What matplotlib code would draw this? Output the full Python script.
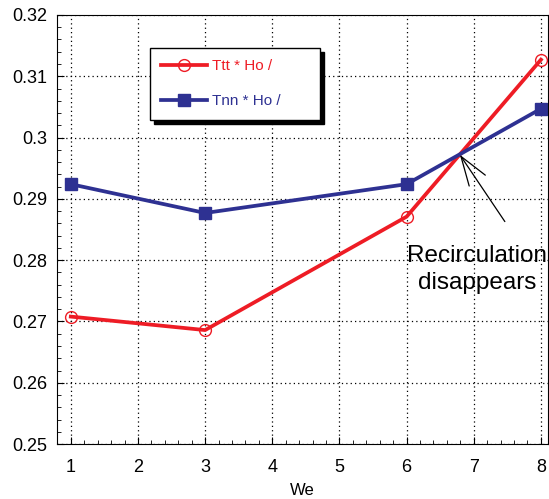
#!/usr/bin/env python3

import matplotlib
matplotlib.use('Agg')
import numpy as np
from matplotlib import pyplot as plt
from matplotlib.ticker import AutoMinorLocator

plt.rcParams['font.family'] = ['Liberation Sans', 'DejaVu Sans']

# values
we = [1, 3, 6, 8]
ttt_ho = [0.2708, 0.2686, 0.2871, 0.3127]
tnn_ho = [0.2924, 0.2877, 0.2924, 0.3047]
x_ticks = [1, 2, 3, 4, 5, 6, 7, 8]
y_ticks = [0.25, 0.26, 0.27, 0.28, 0.29, 0.30, 0.31, 0.32]
y_labels = ['0.25', '0.26', '0.27', '0.28', '0.29', '0.3', '0.31', '0.32']

red = '#ee1c25'
blue = '#2e3192'

fig = plt.figure(figsize=(5.49, 4.99), dpi=100)
ax = fig.add_axes([0.104, 0.110, 0.894, 0.860])

ax.plot(we, ttt_ho, color=red, lw=2.7, marker='o', ms=8.5,
        mfc='none', mec=red, mew=1.0, label='Ttt * Ho /')
ax.plot(we, tnn_ho, color=blue, lw=2.7, marker='s', ms=9,
        mfc=blue, mec=blue, label='Tnn * Ho /')

ax.set_xlim(0.796, 8.104)
ax.set_ylim(0.25, 0.32)
ax.set_xticks(x_ticks)
ax.set_yticks(y_ticks)
ax.set_yticklabels(y_labels)
ax.xaxis.set_minor_locator(AutoMinorLocator(5))
ax.yaxis.set_minor_locator(AutoMinorLocator(5))
ax.tick_params(which='both', direction='in', top=False, right=False,
               labelsize=13)
ax.tick_params(axis='y', pad=7)
ax.tick_params(axis='x', pad=11)
ax.tick_params(which='major', length=5)
ax.tick_params(which='minor', length=3)
ax.grid(True, which='major', color='black', linestyle=(0, (1, 2.5)), lw=0.9)
ax.set_xlabel('We', fontsize=12, labelpad=5)

# the two curves cross here
ax.annotate('', xy=(6.793, 0.2972), xytext=(7.463, 0.2863),
            arrowprops=dict(arrowstyle='->,head_length=2.1,head_width=0.7',
                            color='black', lw=0.9, shrinkA=0, shrinkB=0))
ax.text(7.05, 0.2785, 'Recirculation\ndisappears', fontsize=17.5,
        ha='center', va='center', linespacing=1.3)

leg = ax.legend(loc='upper left', bbox_to_anchor=(0.189, 0.755, 0.346, 0.168),
                mode='expand', borderaxespad=0,
                fontsize=11, handlelength=3.0, handletextpad=0.35,
                labelspacing=1.35, borderpad=0.75, fancybox=False,
                edgecolor='black', framealpha=1, labelcolor='linecolor',
                shadow={'color': 'black', 'alpha': 1.0, 'shade': 0.0,
                        'ox': 3, 'oy': -3})
leg.get_frame().set_linewidth(1.0)

fig.savefig('out.png', dpi=100)
